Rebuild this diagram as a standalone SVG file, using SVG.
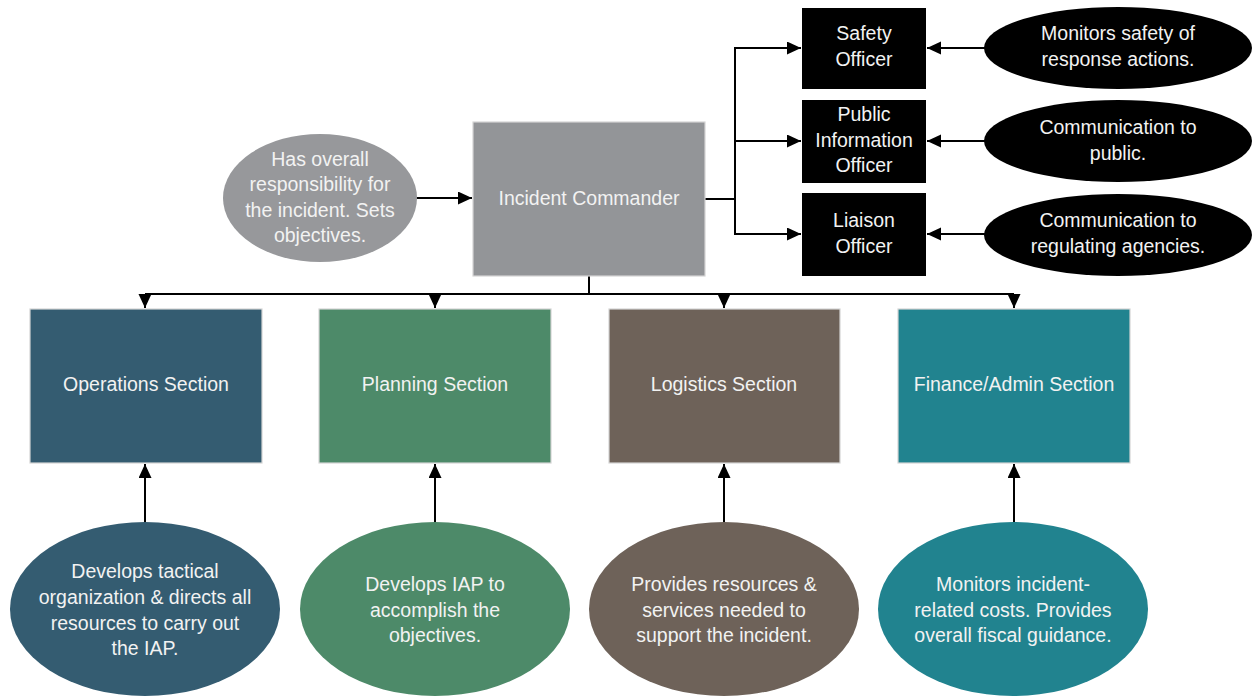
<svg xmlns="http://www.w3.org/2000/svg" width="1254" height="700" viewBox="0 0 1254 700">
<style>
text{font-family:"Liberation Sans",Arial,sans-serif;font-size:19.5px;fill:#f2f2f2;text-anchor:middle}
.conn{fill:none;stroke:#000;stroke-width:2}
.box{stroke:#d4d4d4;stroke-width:1.2}
.blk{fill:#000}
</style>
<defs>
<marker id="ah" markerWidth="16" markerHeight="16" refX="14" refY="6.5" orient="auto" markerUnits="userSpaceOnUse">
<path d="M0,0 L14,6.5 L0,13 z" fill="#000"/>
</marker>
</defs>
<rect width="1254" height="700" fill="#fff"/>
<g id="connectors">
<path class="conn" d="M416,198 H472" marker-end="url(#ah)"/>
<path class="conn" d="M705,199 H735 V48 H801" marker-end="url(#ah)"/>
<path class="conn" d="M735,141 H801" marker-end="url(#ah)"/>
<path class="conn" d="M735,199 V234 H801" marker-end="url(#ah)"/>
<path class="conn" d="M985,48 H927" marker-end="url(#ah)"/>
<path class="conn" d="M985,141 H927" marker-end="url(#ah)"/>
<path class="conn" d="M985,234 H927" marker-end="url(#ah)"/>
<path class="conn" d="M589,276 V294"/>
<path class="conn" d="M145,294 H1014"/>
<path class="conn" d="M145,294 V308" marker-end="url(#ah)"/>
<path class="conn" d="M435,294 V308" marker-end="url(#ah)"/>
<path class="conn" d="M724,294 V308" marker-end="url(#ah)"/>
<path class="conn" d="M1014,294 V308" marker-end="url(#ah)"/>
<path class="conn" d="M145,522 V464" marker-end="url(#ah)"/>
<path class="conn" d="M435,522 V464" marker-end="url(#ah)"/>
<path class="conn" d="M724,522 V464" marker-end="url(#ah)"/>
<path class="conn" d="M1014,522 V464" marker-end="url(#ah)"/>
</g>
<g id="ic-desc">
<ellipse cx="320" cy="198" rx="97" ry="64" fill="#97989b"/>
<text x="320" y="166">Has overall</text>
<text x="320" y="191">responsibility for</text>
<text x="320" y="217">the incident. Sets</text>
<text x="320" y="242">objectives.</text>
</g>
<g id="incident-commander">
<rect class="box" x="473" y="122" width="232" height="154" fill="#939598"/>
<text x="589" y="205">Incident Commander</text>
</g>
<g id="safety-officer">
<rect class="blk" x="802" y="8" width="124" height="81"/>
<text x="864" y="40">Safety</text>
<text x="864" y="66">Officer</text>
</g>
<g id="public-info-officer">
<rect class="blk" x="802" y="100" width="124" height="83"/>
<text x="864" y="121">Public</text>
<text x="864" y="147">Information</text>
<text x="864" y="172">Officer</text>
</g>
<g id="liaison-officer">
<rect class="blk" x="802" y="193" width="124" height="83"/>
<text x="864" y="227">Liaison</text>
<text x="864" y="253">Officer</text>
</g>
<g id="safety-desc">
<ellipse cx="1118" cy="48" rx="134" ry="41" fill="#000"/>
<text x="1118" y="40">Monitors safety of</text>
<text x="1118" y="66">response actions.</text>
</g>
<g id="public-desc">
<ellipse cx="1118" cy="141" rx="134" ry="41" fill="#000"/>
<text x="1118" y="134">Communication to</text>
<text x="1118" y="160">public.</text>
</g>
<g id="liaison-desc">
<ellipse cx="1118" cy="235" rx="134" ry="41" fill="#000"/>
<text x="1118" y="227">Communication to</text>
<text x="1118" y="253">regulating agencies.</text>
</g>
<g id="operations">
<rect class="box" x="30" y="309" width="232" height="154" fill="#345c71"/>
<text x="146" y="391">Operations Section</text>
</g>
<g id="planning">
<rect class="box" x="319" y="309" width="232" height="154" fill="#4d8a69"/>
<text x="435" y="391">Planning Section</text>
</g>
<g id="logistics">
<rect class="box" x="609" y="309" width="231" height="154" fill="#6e6259"/>
<text x="724" y="391">Logistics Section</text>
</g>
<g id="finance">
<rect class="box" x="898" y="309" width="232" height="154" fill="#21838f"/>
<text x="1014" y="391">Finance/Admin Section</text>
</g>
<g id="operations-desc">
<ellipse cx="145" cy="609" rx="135" ry="87" fill="#345c71"/>
<text x="145" y="578">Develops tactical</text>
<text x="145" y="604">organization &amp; directs all</text>
<text x="145" y="630">resources to carry out</text>
<text x="145" y="655">the IAP.</text>
</g>
<g id="planning-desc">
<ellipse cx="435" cy="609" rx="135" ry="87" fill="#4d8a69"/>
<text x="435" y="591">Develops IAP to</text>
<text x="435" y="617">accomplish the</text>
<text x="435" y="642">objectives.</text>
</g>
<g id="logistics-desc">
<ellipse cx="724" cy="609" rx="135" ry="87" fill="#6e6259"/>
<text x="724" y="591">Provides resources &amp;</text>
<text x="724" y="617">services needed to</text>
<text x="724" y="642">support the incident.</text>
</g>
<g id="finance-desc">
<ellipse cx="1013" cy="609" rx="135" ry="87" fill="#21838f"/>
<text x="1013" y="591">Monitors incident-</text>
<text x="1013" y="617">related costs. Provides</text>
<text x="1013" y="642">overall fiscal guidance.</text>
</g>
</svg>
